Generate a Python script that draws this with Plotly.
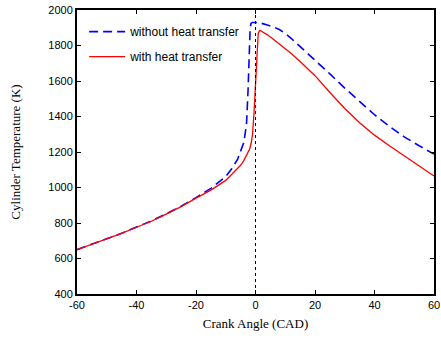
import plotly.graph_objects as go

# Crank angle (CAD) and cylinder temperature (K)
cad_without = [-60, -55, -50, -45, -40, -35, -30, -25, -20, -15, -10, -8, -6, -5, -4, -3.5, -3,
               -2.5, -2.2, -2, -1.8, -1.5, -1, 0, 1, 2, 4, 6, 8, 10, 12, 15, 18, 20, 25, 30,
               35, 40, 45, 50, 55, 60]
temp_without = [650, 680, 710, 742, 777, 812, 852, 895, 943, 995, 1062, 1105, 1160, 1200, 1250,
                1300, 1365, 1550, 1700, 1850, 1900, 1925, 1930, 1930, 1928, 1925, 1915, 1905,
                1890, 1868, 1840, 1795, 1750, 1720, 1640, 1560, 1485, 1410, 1345, 1285, 1235, 1188]

cad_with = [-60, -55, -50, -45, -40, -35, -30, -25, -20, -15, -10, -8, -6, -5, -4, -3, -2, -1.5,
            -1, -0.5, 0, 0.3, 0.6, 0.9, 1.2, 1.5, 2, 4, 6, 8, 10, 12, 15, 18, 20, 25, 30, 35,
            40, 45, 50, 55, 60]
temp_with = [650, 680, 710, 742, 776, 810, 850, 892, 940, 985, 1040, 1075, 1105, 1125, 1150, 1180,
             1215, 1245, 1300, 1420, 1600, 1730, 1810, 1865, 1880, 1885, 1880, 1860, 1835, 1810,
             1785, 1755, 1710, 1660, 1630, 1535, 1445, 1365, 1295, 1235, 1180, 1120, 1065]

x_ticks = [-60, -40, -20, 0, 20, 40, 60]
x_tick_labels = ["-60", "-40", "-20", "0", "20", "40", "60"]
y_ticks = [400, 600, 800, 1000, 1200, 1400, 1600, 1800, 2000]
tdc = 0

fig = go.Figure()
fig.add_trace(go.Scatter(x=cad_without, y=temp_without, mode="lines",
                         name="without heat transfer", legendgroup="a",
                         line=dict(color="#0000ff", width=1.6, dash="9px,5px")))
fig.add_trace(go.Scatter(x=cad_with, y=temp_with, mode="lines",
                         name="with heat transfer", legendgroup="b",
                         line=dict(color="#ff0000", width=1.3)))

fig.add_vline(x=tdc, line=dict(color="black", width=1, dash="dot"))

axis_common = dict(showline=True, linecolor="black", linewidth=2, mirror="ticks",
                   ticks="inside", ticklen=4, tickcolor="black", showgrid=False,
                   zeroline=False, ticklabeloverflow="allow",
                   tickfont=dict(family="Liberation Sans, Arial", size=11, color="black"))

fig.update_xaxes(range=[-60, 60], tickvals=x_ticks, ticktext=x_tick_labels,
                 title=dict(text="Crank Angle (CAD)", standoff=9,
                            font=dict(family="Liberation Serif, Times New Roman", size=13, color="black")),
                 **axis_common)
fig.update_yaxes(range=[400, 2000], tickvals=y_ticks,
                 title=dict(text="Cylinder Temperature (K)", standoff=25,
                            font=dict(family="Liberation Serif, Times New Roman", size=13, color="black")),
                 **axis_common)

fig.update_layout(
    width=441, height=338,
    margin=dict(l=77, r=7, t=10, b=44, autoexpand=False),
    plot_bgcolor="white", paper_bgcolor="white",
    legend=dict(x=0.02, y=0.975, xanchor="left", yanchor="top", bgcolor="rgba(0,0,0,0)",
                tracegroupgap=6, itemwidth=36,
                font=dict(family="Liberation Sans, Arial", size=12, color="black")),
)

fig.write_html("out.html", config={"displayModeBar": False},
               post_script="document.body.style.margin='0';")
